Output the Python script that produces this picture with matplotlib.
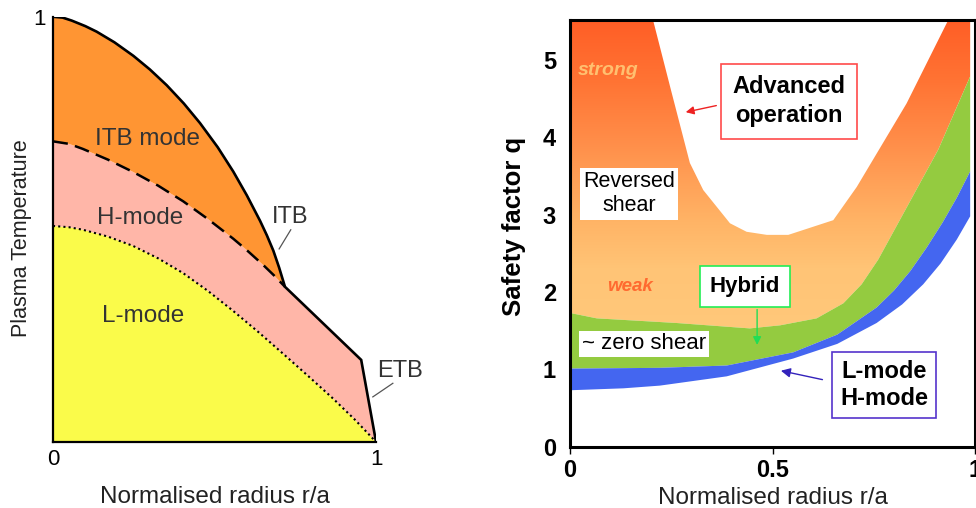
import numpy as np
import matplotlib.pyplot as plt
from matplotlib.colors import LinearSegmentedColormap
from matplotlib.patches import Polygon

plt.rcParams['font.family'] = ['Liberation Sans', 'DejaVu Sans']

# ---- left panel: normalised temperature profiles ----
itb_r = [0, 0.03, 0.058, 0.1, 0.135, 0.19, 0.249, 0.3, 0.352, 0.405, 0.455, 0.51,
         0.558, 0.6, 0.641, 0.662, 0.682, 0.7, 0.718]
itb_T = [1.0, 0.998, 0.991, 0.978, 0.965, 0.94, 0.908, 0.876, 0.839, 0.796, 0.75, 0.693,
         0.636, 0.58, 0.52, 0.486, 0.45, 0.41, 0.365]
edge_r = [0.718, 0.954, 1.0]
edge_T = [0.365, 0.193, 0.0]
hmode_r = [0, 0.05, 0.093, 0.17, 0.248, 0.325, 0.403, 0.48, 0.558, 0.6, 0.651, 0.685, 0.718]
hmode_T = [0.707, 0.701, 0.689, 0.664, 0.635, 0.603, 0.566, 0.524, 0.478, 0.451, 0.416, 0.391, 0.365]
lmode_r = [0, 0.05, 0.093, 0.17, 0.248, 0.325, 0.403, 0.48, 0.558, 0.635, 0.713, 0.79,
           0.867, 0.935, 1.0]
lmode_T = [0.508, 0.505, 0.499, 0.483, 0.461, 0.432, 0.397, 0.355, 0.308, 0.259, 0.207, 0.155,
           0.102, 0.052, 0.0]

# ---- right panel: safety factor bands ----
hole_r = [0.205, 0.25, 0.296, 0.329, 0.395, 0.436, 0.486, 0.539, 0.65, 0.708, 0.831, 0.934]
hole_q = [5.52, 4.6, 3.67, 3.32, 2.89, 2.78, 2.74, 2.74, 2.93, 3.36, 4.44, 5.52]
green_top_r = [0, 0.066, 0.263, 0.444, 0.519, 0.609, 0.675, 0.72, 0.761, 0.835, 0.909, 0.988]
green_top_q = [1.73, 1.66, 1.60, 1.53, 1.57, 1.66, 1.855, 2.1, 2.42, 3.13, 3.84, 4.79]
blue_top_r = [0, 0.222, 0.387, 0.551, 0.66, 0.757, 0.80, 0.84, 0.88, 0.92, 0.955, 0.988]
blue_top_q = [1.01, 1.02, 1.05, 1.22, 1.45, 1.80, 2.02, 2.27, 2.57, 2.90, 3.22, 3.56]
blue_bot_r = [0, 0.132, 0.222, 0.387, 0.551, 0.66, 0.757, 0.82, 0.872, 0.915, 0.955, 0.988]
blue_bot_q = [0.73, 0.755, 0.79, 0.91, 1.14, 1.33, 1.60, 1.84, 2.10, 2.37, 2.68, 2.98]
q_top = 5.52
r_edge = 0.988

fig = plt.figure(figsize=(9.76, 5.08), dpi=100)

# ================= left =================
ax1 = fig.add_axes([0.0543, 0.130, 0.331, 0.837])
ax1.set_xlim(0, 1)
ax1.set_ylim(0, 1)

ax1.fill(lmode_r + [1.0, 0], lmode_T + [0, 0], color='#FAFB4A', lw=0)
pink_r = hmode_r + edge_r[1:] + lmode_r[::-1]
pink_T = hmode_T + edge_T[1:] + lmode_T[::-1]
ax1.fill(pink_r, pink_T, color='#FFB6A8', lw=0)
ax1.fill(itb_r + hmode_r[::-1], itb_T + hmode_T[::-1], color='#FF9533', lw=0)

ax1.plot(itb_r + edge_r[1:], itb_T + edge_T[1:], color='black', lw=1.9, solid_joinstyle='miter')
ax1.plot(hmode_r, hmode_T, color='black', lw=1.8, dashes=(6, 3))
ax1.plot(lmode_r, lmode_T, color='black', lw=1.5, ls=(0, (1, 1.5)))

for s in ['top', 'right']:
    ax1.spines[s].set_visible(False)
for s in ['left', 'bottom']:
    ax1.spines[s].set_linewidth(1.6)
ax1.set_xticks([0, 1])
ax1.set_yticks([1])
ax1.tick_params(length=0, labelsize=16, pad=5)
ax1.set_xticklabels(['0', '1'])
ax1.set_xlabel('Normalised radius r/a', fontsize=17.5, color='#222222')
ax1.xaxis.set_label_coords(0.5, -0.104)
ax1.set_ylabel('Plasma Temperature', fontsize=15.5, color='#222222')
ax1.yaxis.set_label_coords(-0.066, 0.48)

ax1.text(0.291, 0.713, 'ITB mode', fontsize=17.5, ha='center', va='center', color='#333333')
ax1.text(0.269, 0.526, 'H-mode', fontsize=17.5, ha='center', va='center', color='#333333')
ax1.text(0.280, 0.296, 'L-mode', fontsize=17.5, ha='center', va='center', color='#333333')
ax1.text(0.734, 0.529, 'ITB', fontsize=17, ha='center', va='center', color='#333333')
ax1.text(1.074, 0.167, 'ETB', fontsize=17, ha='center', va='center', color='#333333', clip_on=False)
ax1.plot([0.736, 0.700], [0.499, 0.454], color='#555555', lw=0.9)
ax1.plot([1.052, 0.990], [0.138, 0.106], color='#555555', lw=0.9, clip_on=False)

# ================= right =================
ax2 = fig.add_axes([0.584, 0.1207, 0.415, 0.840])
ax2.set_xlim(0, 1)
ax2.set_ylim(0, q_top)

orange_r = [0] + hole_r + [r_edge, r_edge] + green_top_r[::-1]
orange_q = [q_top] + hole_q + [q_top, green_top_q[-1]] + green_top_q[::-1]
orange_poly = Polygon(np.column_stack([orange_r, orange_q]), closed=True,
                      facecolor='none', edgecolor='none')
ax2.add_patch(orange_poly)
grad_cmap = LinearSegmentedColormap.from_list(
    'qgrad', [(0.0, '#FFC87A'), (0.2, '#FFC476'), (0.35, '#FFB466'),
              (0.62, '#FF8C48'), (0.8, '#FF7434'), (1.0, '#FF5E26')])
grad = np.linspace(0, 1, 256).reshape(-1, 1)
img = ax2.imshow(grad, cmap=grad_cmap, origin='lower', aspect='auto',
                 extent=[0, 1, 1.5, q_top], zorder=1)
img.set_clip_path(orange_poly)

green_r = green_top_r + blue_top_r[::-1]
green_q = green_top_q + blue_top_q[::-1]
ax2.fill(green_r, green_q, color='#94CB40', lw=0, zorder=2)
blue_r = blue_top_r + blue_bot_r[::-1]
blue_q = blue_top_q + blue_bot_q[::-1]
ax2.fill(blue_r, blue_q, color='#4466F0', lw=0, zorder=2)

for s in ax2.spines.values():
    s.set_linewidth(2.2)
ax2.set_xticks([0, 0.5, 1])
ax2.set_xticklabels(['0', '0.5', '1'])
ax2.set_yticks([0, 1, 2, 3, 4, 5])
ax2.tick_params(axis='x', direction='out', length=5, width=1, labelsize=17, pad=4)
ax2.tick_params(axis='y', length=0, labelsize=17, pad=10)
for lab in ax2.get_xticklabels() + ax2.get_yticklabels():
    lab.set_fontweight('bold')
ax2.set_xlabel('Normalised radius r/a', fontsize=17.5, color='#222222')
ax2.xaxis.set_label_coords(0.5, -0.094)
ax2.set_ylabel('Safety factor q', fontsize=18.5, fontweight='bold')
ax2.yaxis.set_label_coords(-0.108, 0.515)

ax2.text(0.094, 4.87, 'strong', fontsize=14, fontweight='bold', fontstyle='italic',
         color='#FFC070', ha='center', va='center', zorder=5)
ax2.text(0.148, 2.07, 'weak', fontsize=13.5, fontweight='bold', fontstyle='italic',
         color='#FF6A30', ha='center', va='center', zorder=5)
ax2.text(0.146, 3.27, 'Reversed\nshear', fontsize=15.5, ha='center', va='center',
         linespacing=1.2, zorder=5,
         bbox=dict(boxstyle='square,pad=0.15', facecolor='white', edgecolor='none'))
ax2.text(0.183, 1.33, '~ zero shear', fontsize=16, ha='center', va='center', zorder=5,
         bbox=dict(boxstyle='square,pad=0.12', facecolor='white', edgecolor='none'))
ax2.text(0.541, 4.47, 'Advanced\noperation', fontsize=17, fontweight='bold',
         ha='center', va='center', linespacing=1.3, zorder=5,
         bbox=dict(boxstyle='square,pad=0.5', facecolor='white', edgecolor='#FF4A4A', lw=1.2))
ax2.text(0.432, 2.07, 'Hybrid', fontsize=16, fontweight='bold',
         ha='center', va='center', zorder=5,
         bbox=dict(boxstyle='square,pad=0.45', facecolor='white', edgecolor='#22EE55', lw=1.2))
ax2.text(0.775, 0.80, 'L-mode\nH-mode', fontsize=17, fontweight='bold',
         ha='center', va='center', linespacing=1.2, zorder=5,
         bbox=dict(boxstyle='square,pad=0.35', facecolor='white', edgecolor='#5533CC', lw=1.2))

ax2.annotate('', xy=(0.279, 4.32), xytext=(0.368, 4.42), zorder=5,
             arrowprops=dict(arrowstyle='-|>', color='#EE2222', lw=1, mutation_scale=12))
ax2.annotate('', xy=(0.462, 1.28), xytext=(0.462, 1.81), zorder=5,
             arrowprops=dict(arrowstyle='-|>', color='#22DD55', lw=1, mutation_scale=12))
ax2.annotate('', xy=(0.514, 0.99), xytext=(0.63, 0.86), zorder=5,
             arrowprops=dict(arrowstyle='-|>', color='#3322BB', lw=1, mutation_scale=14))

fig.savefig('out.png', dpi=100)
